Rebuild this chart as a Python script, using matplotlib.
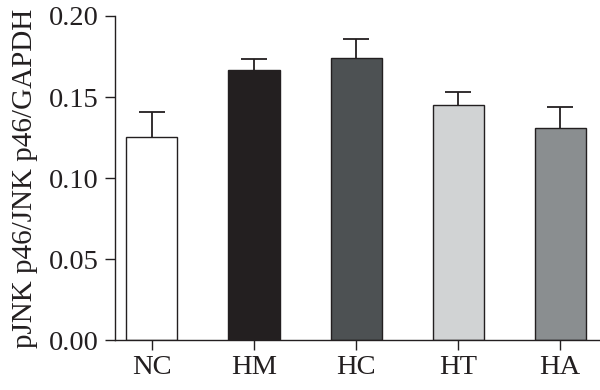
import numpy as np
from matplotlib import pyplot as plt

groups = ['NC', 'HM', 'HC', 'HT', 'HA']
means = [0.1255, 0.1665, 0.1740, 0.1450, 0.1310]
errors = [0.0155, 0.0068, 0.0116, 0.0079, 0.0131]
colors = ['#ffffff', '#231f20', '#4d5153', '#d1d3d4', '#8a8e90']

plt.rcParams['font.family'] = ['Liberation Serif', 'DejaVu Serif']

fig = plt.figure(figsize=(6, 3.9), dpi=100)
ax = fig.add_axes([0.192, 0.128, 0.808, 0.831])

x = np.arange(len(groups))
ink = '#231f20'

# upper error only: stem + single cap
ax.errorbar(x, means, yerr=[np.zeros(len(errors)), errors], fmt='none',
            ecolor=ink, elinewidth=1.3, capsize=0, zorder=1)
ax.plot(x, np.array(means) + np.array(errors), '_', color=ink,
        markersize=19, markeredgewidth=1.3, zorder=1)
ax.bar(x, means, width=0.5, color=colors, edgecolor=ink, linewidth=1.0, zorder=2)

ax.set_xlim(-0.36, 4.39)
ax.set_ylim(0, 0.20)
ax.set_yticks([0.00, 0.05, 0.10, 0.15, 0.20])
ax.set_yticklabels(['0.00', '0.05', '0.10', '0.15', '0.20'])
ax.set_xticks(x)
ax.set_xticklabels(groups)

for s in ['top', 'right']:
    ax.spines[s].set_visible(False)
for s in ['left', 'bottom']:
    ax.spines[s].set_linewidth(1.0)
    ax.spines[s].set_color(ink)

ax.tick_params(axis='both', direction='out', length=7, width=1.0,
               color=ink, labelsize=20.5, labelcolor=ink)
ax.tick_params(axis='y', pad=5)
ax.tick_params(axis='x', pad=4)
ax.set_ylabel('pJNK p46/JNK p46/GAPDH', fontsize=21, color=ink, labelpad=8)

fig.savefig('out.png', dpi=100)
